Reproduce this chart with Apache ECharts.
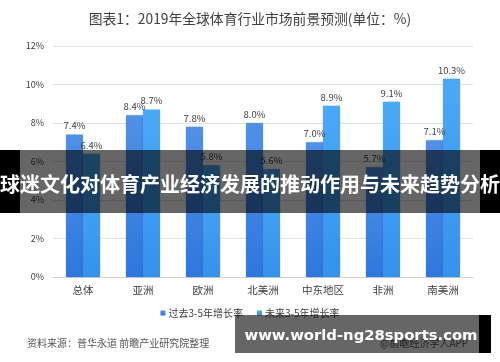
<!DOCTYPE html>
<html><head><meta charset="utf-8">
<script src="https://cdn.jsdelivr.net/npm/echarts@6/dist/echarts.min.js"></script>
<style>html,body{margin:0;padding:0;background:#fff}#c{width:500px;height:362px}</style>
</head><body><div id="c"></div>
<script>
var categories = ['总体','亚洲','欧洲','北美洲','中东地区','非洲','南美洲'];
var pastGrowth = [7.4, 8.4, 7.8, 8.0, 7.0, 5.7, 7.1];
var futureGrowth = [6.4, 8.7, 5.8, 5.6, 8.9, 9.1, 10.3];
var seriesNames = ['过去3-5年增长率','未来3-5年增长率'];
var titleText = '图表1：2019年全球体育行业市场前景预测(单位：%)';
var sourceText = '资料来源：普华永道 前瞻产业研究院整理';
var creditText = '@前瞻经济学人APP';
var bannerText = '球迷文化对体育产业经济发展的推动作用与未来趋势分析';
var siteText = 'www.world-ng28sports.com';

var font = '"Noto Sans CJK SC", "Noto Sans", sans-serif';
var chart = echarts.init(document.getElementById('c'));
function grad(a,b){return new echarts.graphic.LinearGradient(0,0,0,1,[{offset:0,color:a},{offset:1,color:b}]);}
var lbl = {show:true, position:'top', distance:4, fontSize:9.5, color:'#404040', fontFamily:font, formatter:function(p){return p.value.toFixed(1)+'%';}};
chart.setOption({
  animation:false,
  title:{text:titleText, left:'center', top:7, textStyle:{fontSize:13.8, fontWeight:'normal', color:'#404040', fontFamily:font}},
  legend:{data:seriesNames, bottom:39, left:'center', itemWidth:5, itemHeight:5, itemGap:14, icon:'rect',
    textStyle:{fontSize:10, color:'#404040', fontFamily:font, padding:[0,0,0,-2]}},
  grid:{left:53, right:27, top:46, bottom:85},
  xAxis:{type:'category', data:categories,
    axisLine:{lineStyle:{color:'#d0d0d0'}}, axisTick:{show:false},
    axisLabel:{fontSize:10.5, color:'#404040', fontFamily:font, margin:8}},
  yAxis:{type:'value', min:0, max:12, interval:2,
    axisLabel:{formatter:'{value}%', fontSize:9, color:'#404040', fontFamily:font, margin:9},
    axisLine:{show:false}, axisTick:{show:false},
    splitLine:{lineStyle:{color:'#e2e2e2'}}},
  series:[
    {name:seriesNames[0], type:'bar', data:pastGrowth, barWidth:17, barGap:'0%',
     itemStyle:{color:grad('#5090e6','#2f77df'), shadowBlur:2, shadowColor:'rgba(0,0,0,0.18)'}, label:lbl},
    {name:seriesNames[1], type:'bar', data:futureGrowth, barWidth:17,
     itemStyle:{color:grad('#4aa9f6','#3592ec'), shadowBlur:2, shadowColor:'rgba(0,0,0,0.18)'}, label:lbl}
  ],
  color:['#3d84e3','#3fa0f2'],
  graphic:[
    {type:'text', left:27, top:338, z:50, style:{text:sourceText, fontSize:10, fill:'#555', fontFamily:font}},
    {type:'text', left:380, top:338, z:50, style:{text:creditText, fontSize:10, fill:'#555', fontFamily:font}},
    {type:'rect', z:100, shape:{x:0,y:150,width:20,height:63}, style:{fill:'#000'}},
    {type:'rect', z:100, shape:{x:20,y:150,width:460,height:63}, style:{fill:'rgba(0,0,0,0.6)'}},
    {type:'rect', z:100, shape:{x:480,y:150,width:20,height:63}, style:{fill:'#000'}},
    {type:'text', z:101, x:250, y:184, style:{text:bannerText, fontSize:20, fontWeight:'bold', fill:'#fff', fontFamily:font, align:'center', verticalAlign:'middle'}},
    {type:'rect', z:100, shape:{x:235,y:315,width:244,height:38}, style:{fill:'rgba(0,0,0,0.6)'}},
    {type:'rect', z:100, shape:{x:479,y:315,width:12,height:38}, style:{fill:'#000'}},
    {type:'text', z:101, x:361, y:336, style:{text:siteText, fontSize:14.8, fontWeight:'bold', fill:'#fff', fontFamily:'"DejaVu Sans", sans-serif', align:'center', verticalAlign:'middle'}}
  ]
});
</script></body></html>
